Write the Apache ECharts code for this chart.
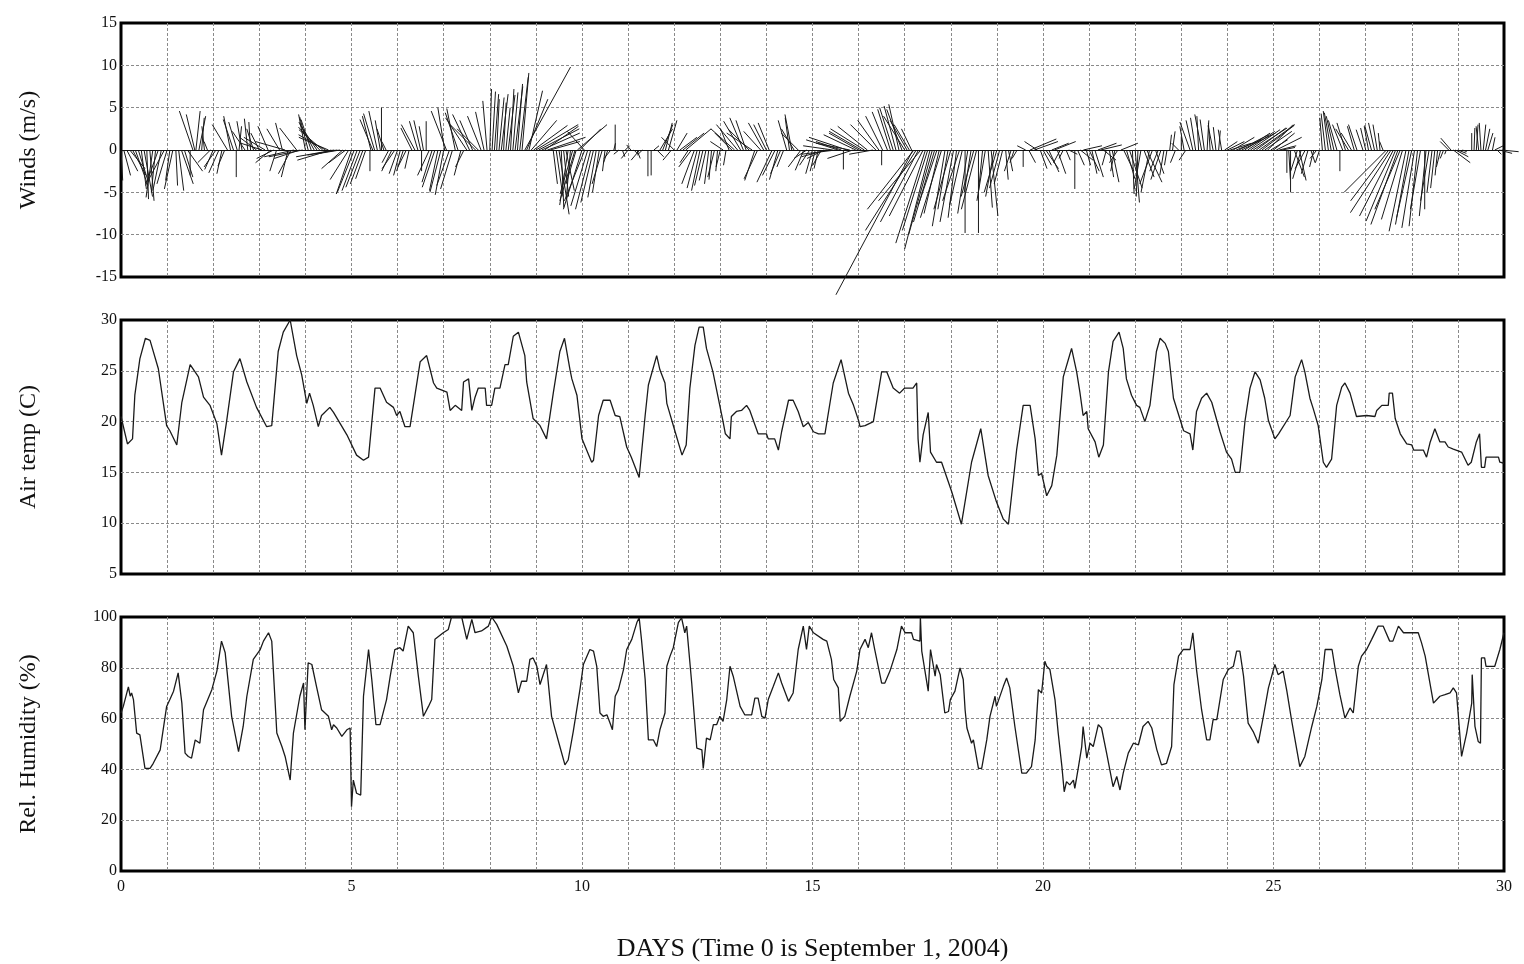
<!DOCTYPE html>
<html><head><meta charset="utf-8">
<script src="https://cdn.jsdelivr.net/npm/echarts@6/dist/echarts.min.js"></script>
<style>html,body{margin:0;padding:0;background:#fff}#c{width:1524px;height:964px}</style>
</head><body><div id="c"></div>
<script>
// ---- DATA ----
const xTicks = [0, 5, 10, 15, 20, 25, 30];
const panelNames = ['Winds (m/s)', 'Air temp (C)', 'Rel. Humidity (%)'];
const xTitle = 'DAYS (Time 0 is September 1, 2004)';

// wind sticks: [day, u (m/s, east), v (m/s, north)]
const windSticksA = [
[0.0,0.2,-3.6],[0.125,1.3,-2.5],[0.25,1.6,-3.0],[0.375,1.2,-3.8],[0.5,1.0,-5.5],[0.625,0.5,-6.0],[0.75,-0.5,-5.0],[0.875,-1.0,-4.8],
[1.0,-1.2,-4.0],[1.125,-1.0,-4.6],[1.25,0.6,-4.8],[1.375,1.0,-3.2],[1.5,0,-3.0],[1.56,-1.6,4.6],[1.625,0.5,4.6],[1.75,0.3,3.8],[1.875,-0.4,1.0],
[2.0,-1.0,-2.3],[2.125,-1.2,-2.7],[2.25,-0.8,-1.9],[2.375,-0.8,4.0],[2.5,0,-3.2],[2.52,-1.0,3.3],[2.625,-0.6,3.4],[2.75,-0.4,3.7],[2.875,-0.8,2.5],
[3.0,-1.0,2.0],[3.125,-2.5,1.5],[3.25,-1.8,-1.5],[3.375,-0.8,-2.5],[3.5,-0.8,3.2],[3.625,-0.8,-3.2],[3.75,-3.5,-0.8],[3.875,-3.0,-1.0],
[4.0,-0.8,4.2],[4.125,-1.2,3.6],[4.25,-2.0,3.0],[4.375,-2.8,2.4],[4.5,-3.5,1.5],[4.625,-4.5,-0.8],[4.75,-3.0,-0.5],[4.875,-2.0,-1.5],
[5.0,-1.8,-5.2],[5.125,-1.8,-4.8],[5.25,-1.5,-4.0],[5.4,0,-2.5],[5.42,-1.0,4.0],[5.5,-1.3,4.3],[5.625,-0.6,3.5],[5.65,0,5.0],[5.75,-0.5,1.0],[5.875,-1.2,-2.5],
[6.0,-1.0,-2.8],[6.125,-0.8,-2.5],[6.25,-0.5,-2.2],[6.375,-1.6,3.0],[6.5,-0.8,3.5],[6.52,0,-2.5],[6.62,0,3.4],[6.75,-1.2,-3.8],[6.875,-1.0,-4.8],
[7.0,-1.0,-5.3],[7.02,-0.8,5.0],[7.125,-1.5,-4.2],[7.25,-1.0,4.9],[7.375,-0.8,-3.0],[7.5,-2.5,3.8],[7.625,-1.5,3.5],[7.75,-2.5,2.5],[7.875,-1.0,4.5],
[8.0,0.2,7.2],[8.1,0.5,6.6],[8.2,0.6,6.2],[8.3,0.3,5.6],[8.4,0.8,6.5],[8.5,0.6,6.8],[8.6,0.6,7.8],[8.7,0.8,9.1],[8.76,5.4,9.8],[8.85,1.6,7.0],[8.95,4.0,2.9],
[9.0,5.0,3.0],[9.125,4.5,2.0],[9.25,4.5,1.5],[9.375,0.5,-4.0],[9.5,1.2,-7.6],[9.6,0.6,-5.5],[9.7,-1.0,-6.5],[9.8,-1.5,-5.2],[9.875,-1.2,-4.0],[9.9,3.5,3.0],
[10.0,-2.2,-7.0],[10.05,-2.0,2.2],[10.125,-2.0,-6.6],[10.25,-1.5,-6.2],[10.375,-0.8,-5.0],[10.5,-0.3,-2.5],[10.625,-0.8,-1.0],[10.72,0,3.0],[10.875,0.3,-0.8],
[11.0,-0.8,-1.0],[11.125,0.5,-0.5],[11.25,-1.0,-1.2],[11.43,0,-3.1],[11.5,0,-3.0],[11.625,0.8,-0.8],[11.75,1.2,3.0],[11.875,1.0,3.5],
[12.0,-1.5,1.5],[12.125,2.0,1.5],[12.25,3.0,2.5],[12.375,-1.5,-2.0],[12.5,-1.2,-4.5],[12.625,-1.0,-4.2],[12.75,-0.5,-4.0],[12.875,-0.8,-3.2],
[13.0,-0.5,-2.0],[13.125,-0.3,-1.8],[13.25,-2.0,2.0],[13.375,-2.5,3.0],[13.5,-1.6,3.8],[13.625,-2.5,2.5],[13.75,-1.2,-3.6],[13.875,-2.0,2.2],
[14.0,-1.5,3.0],[14.125,-1.8,-3.8],[14.25,-1.0,-3.5],[14.375,-0.8,-2.0],[14.5,-0.5,3.8],[14.6,-1.5,2.5],[14.75,-1.5,-2.0],[14.875,-1.5,-1.0],
[15.0,-0.8,-2.8],[15.125,-0.5,-2.2],[15.25,-2.0,-1.0],[15.5,-4.0,-0.5],[15.625,-3.0,1.0],[15.67,0,-2.3],[15.75,-4.5,1.5],[15.875,-3.0,-1.0],
[16.0,-3.5,2.0],[16.125,-4.0,2.5],[16.375,-3.0,3.0],[16.5,0,-1.8],[16.52,-2.0,4.0],[16.625,-1.8,4.5],[16.75,-1.6,5.0],[16.875,-1.2,5.4],
[17.0,-2.5,4.0],[17.1,-1.8,3.0],[17.18,-9.1,-17.1],[17.25,-6.0,-9.5],[17.35,-5.0,-6.0],[17.45,-3.5,-11.0],[17.55,-3.0,-11.7],[17.65,-2.5,-8.5],[17.75,-1.8,-7.5],[17.875,-1.5,-9.0],
[18.0,-2.0,-7.0],[18.125,-1.0,-8.0],[18.25,-1.5,-6.5],[18.31,0,-9.8],[18.5,-1.5,-5.5],[18.6,0,-9.8],[18.75,-1.0,-6.0],[18.875,0.8,-7.8],
[19.0,-1.5,-5.0],[19.125,-1.0,-4.0],[19.25,0.5,-2.5],[19.375,-0.5,-1.5],[19.57,0,-2.0],[19.625,-1.0,0.5],[19.72,3.1,1.3],[19.875,-1.5,1.0],
[20.0,1.0,-1.8],[20.125,1.2,-2.6],[20.25,2.5,1.0],[20.375,-0.8,-1.5],[20.5,0.5,-1.2],[20.69,0,-4.6],[20.75,0.8,-1.8],[20.875,2.2,0.5],
[21.0,1.2,-2.5],[21.125,1.0,-3.2],[21.25,2.5,0.6],[21.375,-0.5,-1.8],[21.5,0.8,-3.8],[21.625,-1.0,-1.5],[21.75,1.2,-2.5],[21.875,1.5,-4.5],
[22.0,0.5,-6.2],[22.125,-0.8,-4.6],[22.25,1.8,-3.8],[22.375,-1.5,-4.0],[22.5,-1.0,-2.5],[22.625,-0.5,-3.0],[22.75,0.2,1.8],[22.875,-0.6,-1.5],
[23.0,0,1.6],[23.1,-0.8,-1.2],[23.25,-0.8,3.5],[23.375,-0.2,4.0],[23.5,-0.5,3.6],[23.625,-0.2,3.2],[23.75,-0.3,2.7],[23.875,-0.4,2.4],
[24.0,2.0,1.0],[24.125,2.5,1.5],[24.25,3.5,1.8],[24.375,3.0,2.0],[24.5,3.5,2.4],[24.625,3.5,2.6],[24.75,3.8,2.9],[24.875,3.0,3.0],
[25.0,2.5,2.0],[25.125,2.0,0.5],[25.29,0,-2.7],[25.37,0,-5.0],[25.45,1.2,-3.2],[25.6,-1.0,-3.4],[25.75,-0.8,-2.8],[25.875,-0.5,-2.0],
[26.0,-0.5,-1.5],[26.125,-0.5,4.3],[26.25,-0.8,4.4],[26.375,-1.0,3.5],[26.44,0,-2.5],[26.5,-1.2,3.0],[26.625,-1.5,2.5],[26.75,-0.8,2.8],
[27.0,-0.6,2.6],[27.125,-0.8,2.9],[27.25,-0.5,3.0],[27.375,-0.4,1.0],[27.45,-5.0,-5.0],[27.55,-4.8,-7.4],[27.65,-3.5,-8.4],[27.75,-3.0,-7.0],[27.875,-2.0,-9.6],
[28.0,-1.8,-8.0],[28.125,-1.0,-9.0],[28.28,0,-7.0],[28.375,-1.0,-6.0],[28.5,-0.5,-4.5],[28.625,-0.5,-2.0],[28.75,-0.2,-0.5],[28.85,-1.2,1.4],[28.9,2.0,-1.5],
[29.0,1.0,-0.4],[29.3,0,2.0],[29.4,0.2,3.0],[29.5,-0.2,3.2],[29.6,0.5,2.5],[29.75,0.3,1.5],[29.85,0.5,-0.5],[29.95,2.0,-0.2]
];
const windSticksB = [
[0.06,0.8,-3.0],[0.19,1.8,-2.2],[0.31,1.5,-4.2],[0.44,0.6,-4.6],[0.56,0.2,-5.8],[0.69,-0.8,-5.6],[0.81,-1.5,-4.2],[0.94,-1.8,-3.4],
[1.06,-0.5,-3.6],[1.19,0.2,-4.2],[1.31,1.4,-4.0],[1.44,1.8,-2.5],[1.6,-1.0,4.2],[1.69,0.8,4.0],[1.81,-0.3,2.8],[1.94,-1.5,-1.5],
[2.06,-1.4,-2.0],[2.19,-0.6,-2.8],[2.31,-1.8,3.0],[2.44,-1.2,3.6],[2.56,0.3,2.8],[2.69,-1.5,2.2],[2.81,-0.2,3.3],[2.94,-2.0,1.5],
[3.06,-2.5,0.8],[3.19,-1.2,2.8],[3.31,-2.0,-1.0],[3.44,-1.5,2.5],[3.56,-3.5,1.0],[3.69,-1.5,-2.8],[3.81,-2.0,2.6],[3.94,-4.0,-0.8],
[4.06,-1.0,3.9],[4.19,-1.8,3.3],[4.31,-2.5,2.7],[4.44,-3.2,1.8],[4.56,-4.0,-1.2],[4.69,-3.5,-0.6],[4.81,-2.5,-2.2],[4.94,-2.2,-3.5],
[5.06,-2.0,-5.0],[5.19,-1.7,-4.4],[5.31,-1.2,-3.4],[5.46,-1.5,3.6],[5.56,-1.0,4.6],[5.7,-0.8,2.5],[5.81,-0.8,-1.5],[5.94,-1.5,-2.2],
[6.06,-0.8,-3.0],[6.19,-1.0,-2.0],[6.31,-1.3,2.6],[6.44,-1.0,3.4],[6.56,-0.5,2.8],[6.69,-1.4,-3.0],[6.81,-1.5,-4.4],[6.94,-1.3,-5.0],
[7.06,-1.8,4.6],[7.19,-1.4,-4.6],[7.31,-1.5,4.4],[7.44,-1.0,-2.0],[7.56,-2.0,4.2],[7.69,-3.0,3.0],[7.81,-1.6,4.0],[7.94,-0.5,5.8],
[8.05,0.4,6.9],[8.15,0.3,6.0],[8.25,0.8,6.6],[8.35,0.5,5.0],[8.45,0.4,7.2],[8.55,0.9,7.5],[8.65,1.0,8.6],[8.8,2.5,6.0],[8.9,3.0,3.5],
[9.06,4.8,2.5],[9.19,4.0,2.8],[9.31,3.5,1.0],[9.44,0.8,-5.5],[9.55,0.3,-6.8],[9.65,1.0,-4.8],[9.75,-0.5,-5.8],[9.85,-1.8,-6.0],[9.95,2.5,2.5],
[10.06,-2.4,-6.0],[10.19,-1.8,-7.0],[10.31,-1.0,-5.6],[10.44,-1.2,-4.0],[10.56,-0.5,-1.5],[10.69,0.2,0.8],[10.8,-0.6,-0.5],[10.94,0.5,0.5],
[11.06,-0.5,0.6],[11.19,0.4,-1.0],[11.31,-0.6,-0.6],[11.56,0.6,0.5],[11.69,1.5,2.5],[11.81,0.8,3.2],[11.94,-1.0,-1.2],
[12.06,1.2,2.0],[12.19,2.5,2.0],[12.31,-1.0,-1.5],[12.44,-1.5,-4.0],[12.56,-1.0,-4.8],[12.69,-0.8,-3.6],[12.81,-0.3,-3.5],[12.94,-0.2,-2.5],
[13.06,-1.5,1.0],[13.19,-1.0,2.5],[13.31,-2.8,2.5],[13.44,-2.0,3.4],[13.56,-1.2,3.5],[13.69,-3.0,2.0],[13.81,-1.6,-3.4],[13.94,-1.8,3.2],
[14.06,-1.3,3.2],[14.19,-1.5,-3.0],[14.31,-1.2,-2.8],[14.44,-1.0,3.5],[14.55,-0.8,4.2],[14.69,-2.0,2.0],[14.81,-1.0,-2.4],[14.94,-1.2,-1.8],
[15.06,-0.6,-2.5],[15.19,-1.0,-1.8],[15.31,-3.0,-0.8],[15.44,-3.5,0.5],[15.56,-3.8,1.2],[15.81,-4.0,0.8],[15.94,-3.8,1.8],
[16.06,-3.8,2.2],[16.19,-3.5,2.8],[16.31,-2.8,-0.5],[16.44,-2.5,3.5],[16.69,-1.5,4.8],[16.81,-1.4,5.2],[16.94,-1.8,4.8],
[17.05,-2.0,3.5],[17.15,-1.2,2.5],[17.2,-5.5,-7.0],[17.3,-4.5,-8.5],[17.4,-4.0,-7.8],[17.5,-3.0,-9.5],[17.6,-2.8,-10.0],[17.7,-2.2,-6.5],[17.8,-2.5,-8.0],[17.94,-1.2,-7.0],
[18.06,-1.6,-8.5],[18.19,-2.0,-6.0],[18.37,-1.2,-7.5],[18.44,-0.8,-5.0],[18.56,-1.8,-7.0],[18.69,-0.5,-5.0],[18.81,0.5,-6.8],[18.94,-1.0,-5.5],
[19.06,-1.2,-4.5],[19.19,0.3,-3.5],[19.31,-0.8,-2.5],[19.44,-0.6,-1.0],[19.69,0.8,-1.5],[19.81,2.8,1.0],[19.94,0.8,-2.2],
[20.06,1.5,-2.2],[20.19,2.0,0.8],[20.31,1.0,-2.8],[20.44,-0.5,-1.0],[20.56,1.0,-0.5],[20.81,1.5,-1.2],[20.94,0.5,-1.8],
[21.06,0.6,-2.8],[21.19,2.2,0.8],[21.31,1.5,-1.2],[21.44,0.5,-3.2],[21.56,-0.5,-2.5],[21.69,2.0,0.8],[21.81,1.0,-3.4],[21.94,0.2,-5.2],
[22.06,-0.2,-5.5],[22.19,1.2,-3.2],[22.31,-1.0,-5.0],[22.44,1.0,-2.8],[22.56,-1.2,-3.5],[22.69,-0.3,-1.8],[22.81,0.3,2.2],[22.94,-0.8,0.8],
[23.06,-0.5,2.8],[23.19,-1.2,3.3],[23.31,-0.6,3.8],[23.44,-0.8,4.2],[23.56,0.2,3.5],[23.69,-0.6,2.9],[23.81,0.2,2.3],[23.94,1.5,1.0],
[24.06,2.5,0.8],[24.19,3.0,1.2],[24.31,4.0,2.0],[24.44,3.2,2.2],[24.56,4.0,2.6],[24.69,4.2,3.0],[24.81,3.2,2.2],[24.94,2.0,1.2],
[25.06,3.0,1.5],[25.19,1.5,0.3],[25.33,0.2,-3.5],[25.52,-0.8,-2.5],[25.56,0.8,-3.6],[25.69,-1.2,-2.2],[25.81,0.5,-1.5],[25.94,-0.8,-1.0],
[26.06,-0.3,3.8],[26.19,-0.6,4.6],[26.31,-0.9,4.0],[26.56,-1.0,3.2],[26.69,-1.2,2.0],[26.81,-1.0,3.0],[26.94,-0.8,2.4],
[27.06,-0.5,2.8],[27.19,-0.7,3.2],[27.31,-0.2,2.0],[27.5,-4.5,-6.0],[27.6,-4.0,-7.8],[27.7,-3.2,-8.8],[27.8,-2.5,-8.2],[27.94,-1.6,-8.8],
[28.06,-1.5,-9.2],[28.19,-1.2,-7.0],[28.31,-0.8,-7.8],[28.44,-0.6,-5.0],[28.56,-0.3,-3.0],[28.69,-0.4,-1.0],[28.8,-1.0,1.0],[28.95,1.5,-0.8],
[29.1,0.5,-0.2],[29.35,0.1,2.6],[29.45,-0.3,2.8],[29.55,0.3,3.0],[29.65,0.6,2.0],[29.8,1.0,0.5],[29.9,1.5,-0.4]
];

// air temperature: [day, degC]
const airTemp = [
[0,20.5],[0.14,17.8],[0.25,18.3],[0.3,22.6],[0.41,26.2],[0.53,28.2],[0.63,28.0],[0.81,25.2],[0.99,19.6],[1.06,19.1],[1.21,17.7],[1.32,21.9],[1.5,25.6],[1.68,24.4],[1.79,22.4],[1.93,21.6],[2.08,19.8],[2.18,16.7],[2.29,20.0],[2.44,24.9],[2.58,26.2],[2.73,23.9],[2.94,21.4],[3.16,19.5],[3.27,19.6],[3.41,26.9],[3.52,28.8],[3.67,30.0],[3.81,26.5],[3.92,24.6],[4.03,21.8],[4.09,22.8],[4.17,21.6],[4.28,19.5],[4.35,20.6],[4.53,21.4],[4.61,20.9],[4.9,18.7],[5.11,16.7],[5.26,16.2],[5.37,16.5],[5.51,23.3],[5.62,23.3],[5.76,21.9],[5.91,21.4],[5.98,20.6],[6.05,21.0],[6.16,19.5],[6.27,19.5],[6.49,25.9],[6.63,26.5],[6.78,23.8],[6.85,23.3],[7.07,22.9],[7.14,21.1],[7.25,21.6],[7.39,21.1],[7.43,23.9],[7.54,24.2],[7.61,21.1],[7.68,22.4],[7.75,23.3],[7.9,23.3],[7.93,21.6],[8.04,21.6],[8.11,23.3],[8.22,23.3],[8.33,25.6],[8.4,25.6],[8.51,28.4],[8.62,28.8],[8.76,26.5],[8.8,23.9],[8.94,20.3],[9.09,19.6],[9.23,18.3],[9.38,22.9],[9.52,26.9],[9.62,28.2],[9.74,25.1],[9.78,24.2],[9.89,22.6],[10.0,18.3],[10.21,16.0],[10.25,16.2],[10.36,20.6],[10.46,22.1],[10.61,22.1],[10.72,20.6],[10.82,20.5],[10.97,17.5],[11.07,16.5],[11.24,14.5],[11.37,20.6],[11.44,23.6],[11.62,26.5],[11.69,25.1],[11.8,23.8],[11.84,21.8],[12.02,19.0],[12.17,16.7],[12.26,17.7],[12.34,23.3],[12.45,27.5],[12.54,29.3],[12.63,29.3],[12.7,27.2],[12.84,24.9],[13.06,20.0],[13.11,18.8],[13.21,18.3],[13.24,20.5],[13.35,21.0],[13.46,21.1],[13.57,21.6],[13.64,21.1],[13.82,18.8],[14.0,18.8],[14.04,18.3],[14.18,18.3],[14.26,17.2],[14.33,19.0],[14.48,22.1],[14.58,22.1],[14.69,21.0],[14.8,19.5],[14.91,19.9],[15.02,19.0],[15.13,18.8],[15.27,18.8],[15.45,23.8],[15.62,26.1],[15.78,22.8],[15.89,21.6],[16.0,20.1],[16.03,19.5],[16.14,19.6],[16.32,20.0],[16.5,24.9],[16.61,24.9],[16.75,23.3],[16.89,22.8],[17.0,23.3],[17.18,23.3],[17.26,23.8],[17.29,18.3],[17.33,16.0],[17.4,18.7],[17.51,20.9],[17.56,17.0],[17.69,16.0],[17.8,16.0],[18.02,13.1],[18.23,9.9],[18.45,16.0],[18.65,19.3],[18.81,14.7],[18.99,12.1],[19.14,10.4],[19.25,9.9],[19.43,17.3],[19.57,21.6],[19.72,21.6],[19.83,18.3],[19.9,14.7],[19.97,14.9],[20.08,12.7],[20.19,13.7],[20.3,16.7],[20.44,24.4],[20.62,27.2],[20.73,24.9],[20.8,22.9],[20.87,20.6],[20.95,21.0],[20.98,19.3],[21.13,18.0],[21.21,16.5],[21.31,17.7],[21.42,24.9],[21.52,27.9],[21.65,28.8],[21.74,27.2],[21.81,24.2],[21.92,22.6],[22.03,21.6],[22.1,21.4],[22.21,20.0],[22.32,21.6],[22.46,26.9],[22.54,28.2],[22.65,27.7],[22.72,26.9],[22.83,22.3],[23.05,19.1],[23.19,18.8],[23.25,17.2],[23.33,21.0],[23.44,22.3],[23.55,22.8],[23.66,21.9],[23.84,19.0],[23.98,17.0],[24.09,16.3],[24.17,15.0],[24.27,15.0],[24.38,20.0],[24.49,23.3],[24.6,24.9],[24.71,24.1],[24.81,22.3],[24.89,20.1],[25.03,18.3],[25.11,18.8],[25.36,20.6],[25.47,24.4],[25.61,26.1],[25.68,24.9],[25.79,22.3],[25.86,21.3],[25.97,19.6],[26.08,16.0],[26.15,15.5],[26.26,16.3],[26.37,21.6],[26.48,23.4],[26.55,23.8],[26.66,22.8],[26.8,20.5],[27.02,20.6],[27.2,20.5],[27.24,21.1],[27.35,21.6],[27.49,21.6],[27.51,22.8],[27.58,22.8],[27.64,20.3],[27.75,18.8],[27.89,17.8],[28.0,17.7],[28.04,17.2],[28.25,17.2],[28.32,16.5],[28.4,18.0],[28.5,19.3],[28.61,18.0],[28.72,18.0],[28.79,17.5],[28.9,17.3],[29.08,17.0],[29.22,15.7],[29.29,16.0],[29.4,18.0],[29.47,18.8],[29.51,15.5],[29.58,15.5],[29.61,16.5],[29.88,16.5],[29.91,16.0],[30.0,15.9]
];

// relative humidity: [day, %]
const relHumidity = [
[0,62.2],[0.05,64.8],[0.16,72.5],[0.2,68.8],[0.23,70.1],[0.27,67.5],[0.34,54.3],[0.41,53.6],[0.52,40.4],[0.63,40.4],[0.7,42.4],[0.85,47.7],[0.99,64.8],[1.06,67.5],[1.14,70.8],[1.24,78.0],[1.32,66.1],[1.39,46.4],[1.46,45.1],[1.53,44.4],[1.61,51.6],[1.71,50.3],[1.79,63.5],[1.97,71.4],[2.08,78.7],[2.18,90.5],[2.26,85.9],[2.4,60.9],[2.55,47.0],[2.65,56.9],[2.73,68.8],[2.87,83.3],[3.02,87.2],[3.09,90.5],[3.2,93.8],[3.27,90.5],[3.38,54.3],[3.49,49.0],[3.56,45.1],[3.67,35.8],[3.74,54.3],[3.88,68.8],[3.96,74.0],[3.99,55.6],[4.06,82.0],[4.14,81.3],[4.24,72.7],[4.35,63.5],[4.5,60.9],[4.57,55.6],[4.61,57.6],[4.68,56.3],[4.79,53.0],[4.9,55.6],[4.97,56.3],[5.0,25.3],[5.04,35.8],[5.11,30.6],[5.2,29.9],[5.26,68.8],[5.37,87.2],[5.44,75.4],[5.53,57.6],[5.62,57.6],[5.76,67.5],[5.84,76.7],[5.94,87.2],[6.05,87.9],[6.12,86.6],[6.23,96.4],[6.34,93.8],[6.45,76.7],[6.56,60.9],[6.67,64.8],[6.74,67.5],[6.81,91.2],[6.99,93.8],[7.1,95.1],[7.17,100],[7.39,100],[7.5,91.2],[7.61,99.1],[7.68,93.8],[7.82,94.5],[7.97,96.4],[8.04,100],[8.15,97.1],[8.37,88.5],[8.51,80.6],[8.62,70.1],[8.69,74.7],[8.8,74.7],[8.87,83.3],[8.94,83.9],[9.02,80.6],[9.09,73.4],[9.23,81.3],[9.34,60.9],[9.52,49.0],[9.63,41.8],[9.7,43.7],[9.81,54.9],[9.96,72.0],[10.03,81.3],[10.17,87.2],[10.25,86.6],[10.32,80.6],[10.39,62.2],[10.46,60.9],[10.54,61.5],[10.61,58.2],[10.66,55.6],[10.72,68.8],[10.79,71.4],[10.9,79.3],[10.97,87.2],[11.08,91.2],[11.19,97.8],[11.24,99.7],[11.29,91.2],[11.37,75.4],[11.44,51.6],[11.55,51.6],[11.62,49.0],[11.69,55.6],[11.8,62.2],[11.84,80.6],[11.91,84.6],[11.98,87.9],[12.09,97.8],[12.16,99.7],[12.23,93.8],[12.27,96.4],[12.38,74.0],[12.49,48.4],[12.6,47.7],[12.63,40.4],[12.7,52.3],[12.78,51.6],[12.85,57.6],[12.92,57.6],[12.99,60.9],[13.06,58.9],[13.14,67.5],[13.21,80.6],[13.28,76.7],[13.43,64.8],[13.53,61.5],[13.68,61.5],[13.75,68.1],[13.82,68.1],[13.9,60.9],[13.97,60.2],[14.04,67.5],[14.15,72.7],[14.26,78.0],[14.33,74.0],[14.48,66.8],[14.58,70.1],[14.69,87.2],[14.8,96.4],[14.87,87.2],[14.93,96.4],[15.02,93.8],[15.23,91.2],[15.31,90.5],[15.41,83.3],[15.46,75.4],[15.56,72.1],[15.6,58.9],[15.7,60.9],[15.81,68.8],[15.96,78.7],[16.03,87.2],[16.14,91.2],[16.21,87.9],[16.28,93.8],[16.35,87.2],[16.5,74.0],[16.57,74.0],[16.68,78.7],[16.83,87.2],[16.93,96.4],[17.01,93.8],[17.15,93.8],[17.19,91.2],[17.33,90.5],[17.34,100],[17.37,86.6],[17.51,70.8],[17.56,87.2],[17.66,76.7],[17.69,81.3],[17.77,77.3],[17.87,62.2],[17.95,62.8],[17.99,67.5],[18.09,70.8],[18.2,80.0],[18.27,75.4],[18.31,63.5],[18.35,56.3],[18.45,50.3],[18.49,51.6],[18.6,40.4],[18.67,40.4],[18.78,51.6],[18.85,60.9],[18.96,68.8],[18.99,64.8],[19.14,72.7],[19.21,76.0],[19.28,72.1],[19.39,56.9],[19.54,38.5],[19.64,38.5],[19.75,41.1],[19.83,51.6],[19.9,71.4],[19.97,70.1],[20.04,82.6],[20.08,80.6],[20.15,79.3],[20.26,67.5],[20.33,54.3],[20.41,41.1],[20.46,31.2],[20.51,35.2],[20.58,33.9],[20.66,35.8],[20.69,32.5],[20.77,41.1],[20.84,49.0],[20.87,56.9],[20.95,44.4],[21.02,50.3],[21.09,49.0],[21.2,57.6],[21.27,56.3],[21.38,46.4],[21.45,39.8],[21.52,33.2],[21.6,37.2],[21.67,31.9],[21.74,38.5],[21.85,46.4],[21.96,50.3],[22.07,49.7],[22.17,56.9],[22.28,58.9],[22.36,56.3],[22.47,47.7],[22.57,41.8],[22.68,42.4],[22.79,49.0],[22.84,73.4],[22.94,84.6],[23.04,87.2],[23.19,87.2],[23.25,93.8],[23.33,79.3],[23.44,63.5],[23.55,51.6],[23.62,51.6],[23.69,59.6],[23.77,59.6],[23.91,75.4],[24.02,79.3],[24.13,80.6],[24.2,86.6],[24.27,86.6],[24.35,76.7],[24.45,58.2],[24.56,54.9],[24.67,50.3],[24.78,60.9],[24.89,72.1],[25.03,81.3],[25.1,77.3],[25.21,78.7],[25.29,70.8],[25.39,59.6],[25.57,41.1],[25.68,45.1],[25.83,56.9],[25.94,64.8],[26.05,75.4],[26.12,87.2],[26.27,87.2],[26.34,79.3],[26.44,69.4],[26.55,60.2],[26.66,64.2],[26.73,62.2],[26.84,80.6],[26.91,84.6],[27.02,87.2],[27.13,91.2],[27.27,96.4],[27.38,96.4],[27.52,90.5],[27.59,90.5],[27.71,96.4],[27.82,93.8],[27.96,93.8],[28.14,93.8],[28.21,89.9],[28.29,84.6],[28.47,66.1],[28.61,68.8],[28.72,69.4],[28.83,70.1],[28.9,72.1],[28.97,70.1],[29.01,60.9],[29.08,45.1],[29.19,54.3],[29.3,66.1],[29.31,77.3],[29.37,56.9],[29.44,51.0],[29.49,50.3],[29.51,83.9],[29.58,83.9],[29.61,80.6],[29.8,80.6],[29.91,87.2],[30.0,93.8]
];

// ---- CHART ----
const FONT = '"Liberation Serif", "DejaVu Serif", serif';
const chart = echarts.init(document.getElementById('c'), null, {renderer: 'canvas'});
const gridTops = [23, 320, 617];
const yRanges = [[-15, 15, 5], [5, 30, 5], [0, 100, 20]];
const grids = gridTops.map(t => ({left: 121, top: t, width: 1383, height: 254,
  show: true, borderColor: '#000', borderWidth: 3, backgroundColor: 'transparent'}));
const splitStyle = {show: true, showMinLine: false, showMaxLine: false,
  lineStyle: {color: '#8a8a8a', width: 1, type: [3, 2]}};
const xAxes = gridTops.map((t, i) => ({
  type: 'value', gridIndex: i, min: 0, max: 30, interval: 1,
  axisLine: {show: false}, axisTick: {show: false}, splitLine: splitStyle,
  axisLabel: {show: i === 2, margin: 8, fontFamily: FONT, fontSize: 16, color: '#111',
    formatter: v => (xTicks.indexOf(v) >= 0 ? String(v) : '')},
  name: i === 2 ? xTitle : '', nameLocation: 'middle', nameGap: 65,
  nameTextStyle: {fontFamily: FONT, fontSize: 26, color: '#111'}
}));
const yAxes = yRanges.map((r, i) => ({
  type: 'value', gridIndex: i, min: r[0], max: r[1], interval: r[2],
  axisLine: {show: false}, axisTick: {show: false}, splitLine: splitStyle,
  axisLabel: {margin: 4, fontFamily: FONT, fontSize: 16, color: '#111',
    verticalAlign: 'middle', padding: [0, 0, 10, 0]},
  name: panelNames[i], nameLocation: 'middle', nameGap: 80, nameRotate: 90,
  nameTextStyle: {fontFamily: FONT, fontSize: 24, color: '#111'}
}));

const stickSeries = {
  type: 'custom', xAxisIndex: 0, yAxisIndex: 0, clip: false, silent: true,
  data: windSticksA.concat(windSticksB),
  renderItem: function (params, api) {
    const t = api.value(0), u = api.value(1), v = api.value(2);
    const base = api.coord([t, 0]);
    const s = api.size([0, 1])[1]; // pixels per m/s (same scale in both directions)
    return {type: 'line', shape: {x1: base[0], y1: base[1], x2: base[0] + u * s, y2: base[1] - v * s},
      style: {stroke: '#1a1a1a', lineWidth: 1}};
  },
  markLine: {silent: true, symbol: 'none', label: {show: false},
    lineStyle: {color: '#111', width: 1.2, type: 'solid'}, data: [{yAxis: 0}]}
};

chart.setOption({
  animation: false,
  backgroundColor: '#fff',
  grid: grids, xAxis: xAxes, yAxis: yAxes,
  series: [
    stickSeries,
    {type: 'line', xAxisIndex: 1, yAxisIndex: 1, data: airTemp, showSymbol: false,
      lineStyle: {color: '#1a1a1a', width: 1.3}},
    {type: 'line', xAxisIndex: 2, yAxisIndex: 2, data: relHumidity, showSymbol: false,
      lineStyle: {color: '#1a1a1a', width: 1.3}}
  ]
});
</script></body></html>
